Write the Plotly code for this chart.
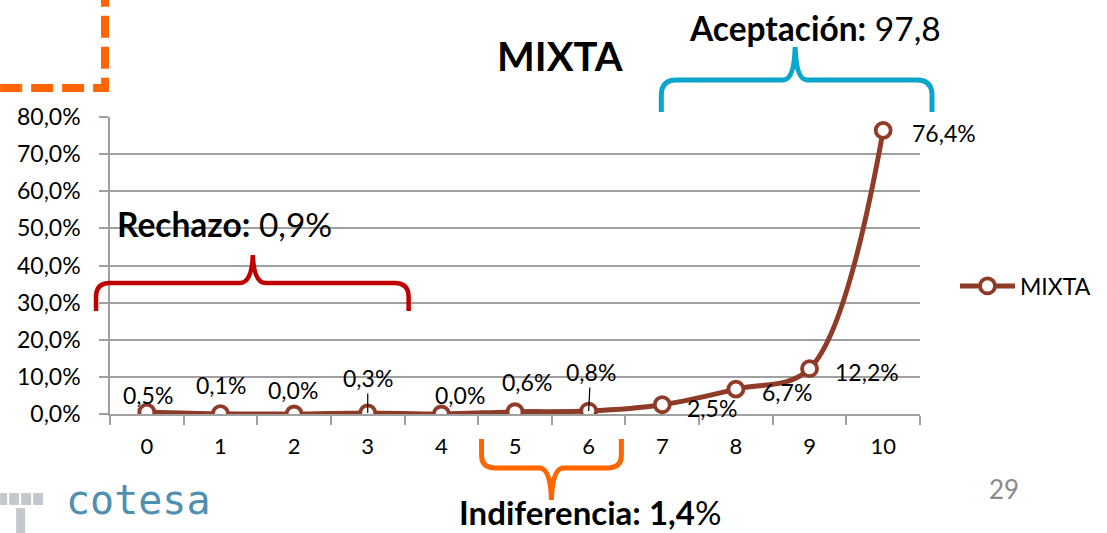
import plotly.graph_objects as go

categorias = ['0', '1', '2', '3', '4', '5', '6', '7', '8', '9', '10']
mixta = [0.5, 0.1, 0.0, 0.3, 0.0, 0.6, 0.8, 2.5, 6.7, 12.2, 76.4]
ticks_y = [0, 10, 20, 30, 40, 50, 60, 70, 80]
titulo = 'MIXTA'
rechazo = '0,9%'
indiferencia = '1,4'
aceptacion = '97,8'
pagina = '29'

# offsets (px) for the value labels, as Excel left them
offs = [(1, -17), (1, -29), (-1, -24), (0, -35), (19, -19), (12, -30),
        (2, -39), (50, 3), (51, 3), (57, 3), (61, 3)]
leader = [False, False, False, True, False, False, True, False, False, False, False]

W, H = 1107, 533
L, R, T, B = 110, 186, 117, 119
pw, ph = W - L - R, H - T - B
color = '#8E3B27'
gris = '#A0A0A0'


def pp(x, y):
    return (x - L) / pw, (H - B - y) / ph


def ruta(seq):
    out = []
    for cmd, *pts in seq:
        cs = []
        for i in range(0, len(pts), 2):
            a, b = pp(pts[i], pts[i + 1])
            cs.append(f'{a:.5f},{b:.5f}')
        out.append(cmd + ' ' + ' '.join(cs))
    return ' '.join(out)


def pct(v):
    return f'{v:.1f}'.replace('.', ',') + '%'


fig = go.Figure()
fig.add_trace(go.Scatter(x=categorias, y=mixta, mode='lines+markers', name='MIXTA',
                         line=dict(color=color, width=5, shape='spline', smoothing=1),
                         marker=dict(size=15, color='white', line=dict(color=color, width=3.8))))

ann = []
for i, v in enumerate(mixta):
    dx, dy = offs[i]
    if leader[i]:
        ann.append(dict(x=i, y=v, xref='x', yref='y', text=pct(v), showarrow=True, arrowhead=0,
                        arrowwidth=1.2, arrowcolor='black', ax=dx, ay=dy, standoff=0,
                        font=dict(size=23, color='black')))
    else:
        ann.append(dict(x=i, y=v, xref='x', yref='y', text=pct(v), showarrow=False,
                        xshift=dx, yshift=-dy, font=dict(size=23, color='black')))


def txt(x, y, s, size, color='black', family=None):
    a, b = pp(x, y)
    f = dict(size=size, color=color)
    if family:
        f['family'] = family
    return dict(x=a, y=b, xref='paper', yref='paper', text=s, showarrow=False, borderpad=0,
                xanchor='center', yanchor='middle', font=f)


ann += [
    txt(561, 56, f'<b>{titulo}</b>', 40),
    txt(225, 224, f'<b>Rechazo:</b> {rechazo}', 33.5),
    txt(816, 28, f'<b>Aceptación:</b> {aceptacion}', 33.5),
    txt(591, 512, f'<b>Indiferencia: {indiferencia}</b>%', 33),
    txt(1005, 489, pagina, 26, '#8A8A8A'),
    txt(139, 500, 'cotesa', 40, '#4F8FB0', 'DejaVu Sans Mono'),
]

shapes = [
    dict(type='path', xref='paper', yref='paper', line=dict(color='#C00000', width=4.5),
         path=ruta([('M', 96, 311), ('L', 96, 297), ('Q', 96, 283, 110, 283), ('L', 240, 283),
                    ('Q', 252, 283, 253, 255), ('Q', 254, 283, 266, 283), ('L', 395, 283),
                    ('Q', 409, 283, 409, 297), ('L', 409, 311)])),
    dict(type='path', xref='paper', yref='paper', line=dict(color='#FF6600', width=5),
         path=ruta([('M', 482, 439), ('L', 482, 455), ('Q', 482, 468, 496, 468), ('L', 540, 468),
                    ('Q', 551, 468, 552, 500), ('Q', 553, 468, 564, 468), ('L', 608, 468),
                    ('Q', 622, 468, 622, 455), ('L', 622, 439)])),
    dict(type='path', xref='paper', yref='paper', line=dict(color='#0AA6CC', width=5),
         path=ruta([('M', 662, 112), ('L', 662, 95), ('Q', 662, 80, 677, 80), ('L', 784, 80),
                    ('Q', 795, 80, 796, 47), ('Q', 797, 80, 808, 80), ('L', 918, 80),
                    ('Q', 933, 80, 933, 95), ('L', 933, 112)])),
    dict(type='path', xref='paper', yref='paper', line=dict(color='#FF6600', width=8, dash='22px,9px'),
         path=ruta([('M', 0, 88), ('L', 105, 88), ('L', 105, 0)])),
]
# logo squares
for x0, y0, x1, y1 in [(0, 493, 7, 505), (9, 493, 19, 505), (21, 493, 31, 505), (33, 493, 43, 505), (16, 508, 25, 533)]:
    a0, b0 = pp(x0, y0)
    a1, b1 = pp(x1, y1)
    shapes.append(dict(type='rect', xref='paper', yref='paper', x0=a0, y0=b0, x1=a1, y1=b1,
                       fillcolor='#C3C8CC', line=dict(width=0)))

lx, ly = pp(955, 286)
fig.update_layout(
    width=W, height=H, margin=dict(l=L, r=R, t=T, b=B),
    paper_bgcolor='white', plot_bgcolor='white', separators=',.',
    font=dict(family='Lato', color='black', size=22),
    showlegend=True,
    legend=dict(x=lx, y=ly, xanchor='left', yanchor='middle', font=dict(size=23), itemwidth=55,
                bgcolor='rgba(0,0,0,0)'),
    annotations=ann, shapes=shapes,
    xaxis=dict(type='category', range=[-0.5, 10.5], tickson='boundaries', ticks='outside', ticklen=9,
               tickcolor=gris, tickwidth=1.5, showline=True, linecolor=gris, linewidth=1.5,
               showgrid=False, ticklabelstandoff=12, tickfont=dict(size=22)),
    yaxis=dict(range=[0, 80], tickvals=ticks_y, ticktext=[pct(t) for t in ticks_y], ticks='outside',
               ticklen=9, tickcolor=gris, tickwidth=1.5, showline=True, linecolor=gris, linewidth=1.5,
               showgrid=True, gridcolor=gris, gridwidth=1.5, zeroline=False, ticklabelstandoff=14,
               tickfont=dict(size=23)),
)
fig.write_html('out.html', config={'displayModeBar': False},
               post_script="document.body.style.margin='0';document.body.style.overflow='hidden';")
